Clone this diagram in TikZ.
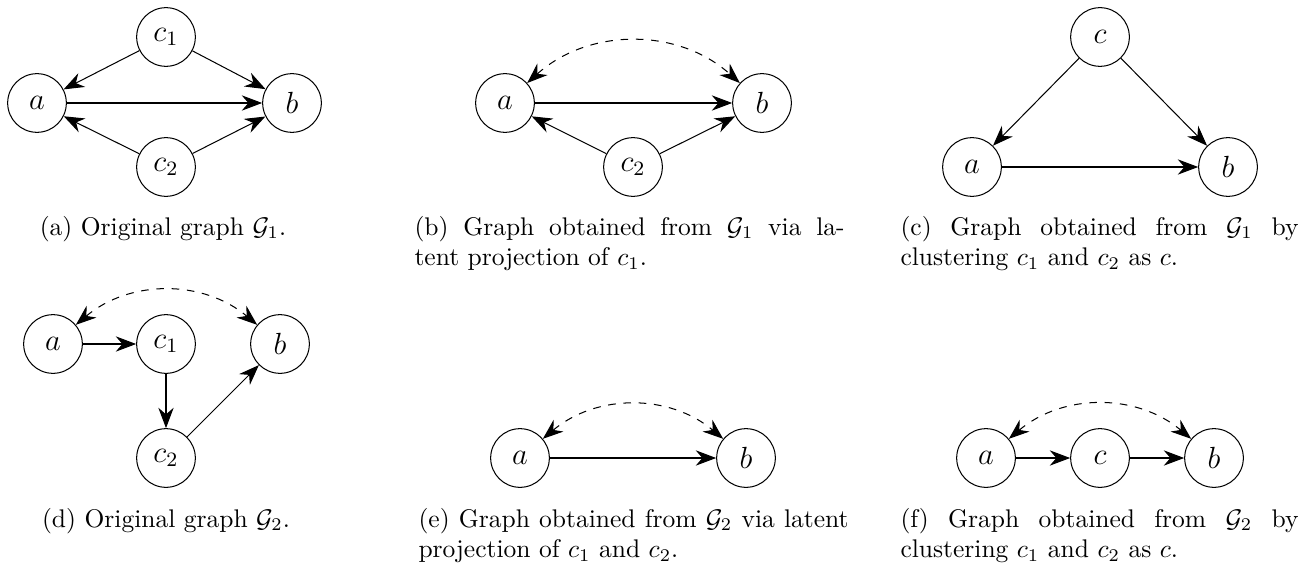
\documentclass[tikz,border=0pt]{standalone}
\usetikzlibrary{arrows.meta}
\tikzset{
  vertex/.style={draw, circle, minimum size=23pt, inner sep=0pt, font=\large},
  arrow/.style={-{Stealth[length=8pt, width=6pt, inset=2.6pt]}},
  bidir/.style={{Stealth[length=8pt, width=6pt, inset=2.6pt]}-{Stealth[length=8pt, width=6pt, inset=2.6pt]}, dashed},
  subcap/.style={anchor=base west, inner sep=0pt, align=justify},
  subcapc/.style={anchor=base, inner sep=0pt},
}

\begin{document}
\begin{tikzpicture}[x=0.392pt, y=-0.392pt]
  \useasboundingbox (0,0) rectangle (1314,564);
  % (a) original graph G1
  \node[vertex] (a1) at (37,103) {$a$};
  \node[vertex] (b1) at (292,103) {$b$};
  \node[vertex] (ca1) at (166,37) {$c_1$};
  \node[vertex] (cb1) at (166,167) {$c_2$};
  \draw[arrow] (ca1) -- (a1);
  \draw[arrow] (ca1) -- (b1);
  \draw[arrow] (a1) -- (b1);
  \draw[arrow] (cb1) -- (a1);
  \draw[arrow] (cb1) -- (b1);
  \node[subcapc] (capa) at (163,235) {(a) Original graph $\mathcal{G}_1$.};
  % (b) latent projection of c1
  \node[vertex] (a2) at (505,103) {$a$};
  \node[vertex] (b2) at (762,103) {$b$};
  \node[vertex] (cb2) at (633,167) {$c_2$};
  \draw[arrow] (a2) -- (b2);
  \draw[arrow] (cb2) -- (a2);
  \draw[arrow] (cb2) -- (b2);
  \draw[bidir] (a2) to[bend left=42] (b2);
  \node[subcap, text width=168.6pt] (capb) at (414,235) {(b) Graph obtained from $\mathcal{G}_1$ via la-\linebreak tent projection of $c_1$.};
  % (c) clustering in G1
  \node[vertex] (a3) at (972,167) {$a$};
  \node[vertex] (b3) at (1228,167) {$b$};
  \node[vertex] (c3) at (1100,37) {$c$};
  \draw[arrow] (c3) -- (a3);
  \draw[arrow] (c3) -- (b3);
  \draw[arrow] (a3) -- (b3);
  \node[subcap, text width=156pt] (capc) at (900,235) {(c) Graph obtained from $\mathcal{G}_1$ by\linebreak clustering $c_1$ and $c_2$ as $c$.};
  % (d) original graph G2
  \node[vertex] (a4) at (53,344) {$a$};
  \node[vertex] (ca4) at (166,344) {$c_1$};
  \node[vertex] (b4) at (280,344) {$b$};
  \node[vertex] (cb4) at (166,458) {$c_2$};
  \draw[arrow] (a4) -- (ca4);
  \draw[arrow] (ca4) -- (cb4);
  \draw[arrow] (cb4) -- (b4);
  \draw[bidir] (a4) to[bend left=40] (b4);
  \node[subcapc] (capd) at (166,527) {(d) Original graph $\mathcal{G}_2$.};
  % (e) latent projection of c1 and c2
  \node[vertex] (a5) at (520,458) {$a$};
  \node[vertex] (b5) at (746,458) {$b$};
  \draw[arrow] (a5) -- (b5);
  \draw[bidir] (a5) to[bend left=40] (b5);
  \node[subcap, text width=168.6pt] (cape) at (418,527) {(e) Graph obtained from $\mathcal{G}_2$ via latent\linebreak projection of $c_1$ and $c_2$.};
  % (f) clustering in G2
  \node[vertex] (a6) at (986,458) {$a$};
  \node[vertex] (c6) at (1100,458) {$c$};
  \node[vertex] (b6) at (1214,458) {$b$};
  \draw[arrow] (a6) -- (c6);
  \draw[arrow] (c6) -- (b6);
  \draw[bidir] (a6) to[bend left=40] (b6);
  \node[subcap, text width=156pt] (capf) at (900,527) {(f) Graph obtained from $\mathcal{G}_2$ by\linebreak clustering $c_1$ and $c_2$ as $c$.};
\end{tikzpicture}
\end{document}
